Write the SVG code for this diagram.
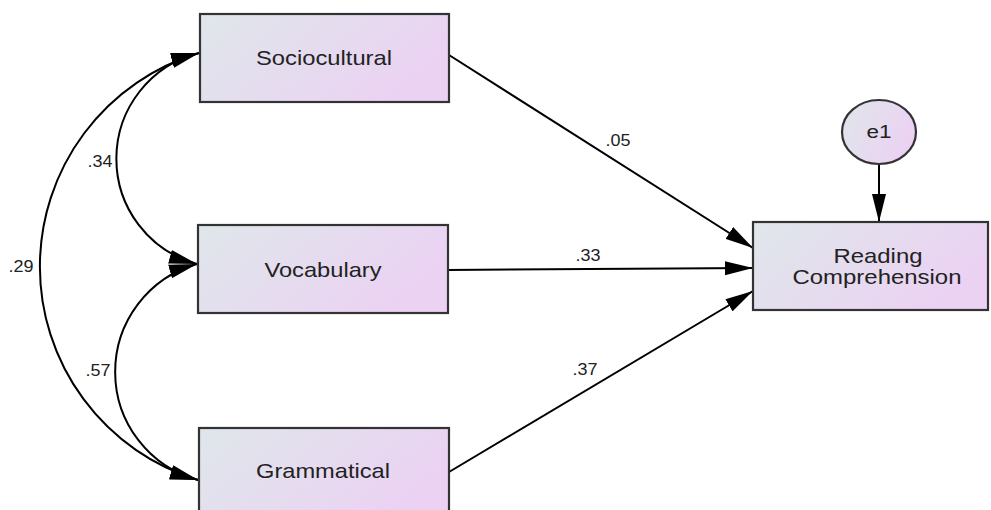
<svg xmlns="http://www.w3.org/2000/svg" width="991" height="510" viewBox="0 0 991 510">
<defs>
<linearGradient id="fill" x1="0" y1="0" x2="1" y2="0.4">
<stop offset="0" stop-color="#dfe7ea"/>
<stop offset="1" stop-color="#ebd2f3"/>
</linearGradient>
<marker id="arr" markerUnits="userSpaceOnUse" markerWidth="29" markerHeight="15" refX="28" refY="7.5" orient="auto-start-reverse" viewBox="0 0 29 15">
<path d="M0,0.5 L28,7.5 L0,14.5 z" fill="#000"/>
</marker>
<style>
.box{fill:url(#fill);stroke:#333;stroke-width:2.2}
.lbl{font-family:"Liberation Sans",Arial,sans-serif;font-size:21px;fill:#222;text-anchor:middle}
.coef{font-family:"Liberation Sans",Arial,sans-serif;font-size:16px;fill:#222;text-anchor:middle}
.edge{fill:none;stroke:#000;stroke-width:2;marker-end:url(#arr)}
.cov{fill:none;stroke:#000;stroke-width:2;marker-start:url(#arr);marker-end:url(#arr)}
</style>
</defs>
<rect width="991" height="510" fill="#fff"/>
<g id="connectors">
<path class="cov" d="M199,53 A109,109 0 0 0 197,264"/>
<path class="cov" d="M199,53 A223,223 0 0 0 198,480"/>
<path class="cov" d="M197,264 A112,112 0 0 0 198,480"/>
<path class="edge" d="M449,55 L753,248"/>
<path class="edge" d="M448,270 L753,268"/>
<path class="edge" d="M449,472 L753,291"/>
<path class="edge" d="M879,164 L879,222"/>
<text class="coef" x="618" y="146" textLength="25" lengthAdjust="spacingAndGlyphs">.05</text>
<text class="coef" x="588" y="261" textLength="25" lengthAdjust="spacingAndGlyphs">.33</text>
<text class="coef" x="585" y="375" textLength="25" lengthAdjust="spacingAndGlyphs">.37</text>
<text class="coef" x="100" y="167" textLength="25" lengthAdjust="spacingAndGlyphs">.34</text>
<text class="coef" x="21" y="272" textLength="25" lengthAdjust="spacingAndGlyphs">.29</text>
<text class="coef" x="98" y="376" textLength="25" lengthAdjust="spacingAndGlyphs">.57</text>
</g>
<g id="sociocultural">
<rect class="box" x="200" y="14" width="249" height="88"/>
<text class="lbl" x="324" y="65" textLength="136" lengthAdjust="spacingAndGlyphs">Sociocultural</text>
</g>
<g id="vocabulary">
<rect class="box" x="198" y="225" width="250" height="88"/>
<text class="lbl" x="323" y="277" textLength="117" lengthAdjust="spacingAndGlyphs">Vocabulary</text>
</g>
<g id="grammatical">
<rect class="box" x="199" y="428" width="250" height="90"/>
<text class="lbl" x="323" y="478" textLength="134" lengthAdjust="spacingAndGlyphs">Grammatical</text>
</g>
<g id="reading">
<rect class="box" x="753" y="222" width="235" height="88"/>
<text class="lbl" x="878" y="263" textLength="89" lengthAdjust="spacingAndGlyphs">Reading</text>
<text class="lbl" x="877" y="284" textLength="169" lengthAdjust="spacingAndGlyphs">Comprehension</text>
</g>
<g id="e1">
<ellipse class="box" cx="879" cy="132" rx="37" ry="32"/>
<text class="lbl" x="879" y="138" style="font-size:18px" textLength="25" lengthAdjust="spacingAndGlyphs">e1</text>
</g>
</svg>
